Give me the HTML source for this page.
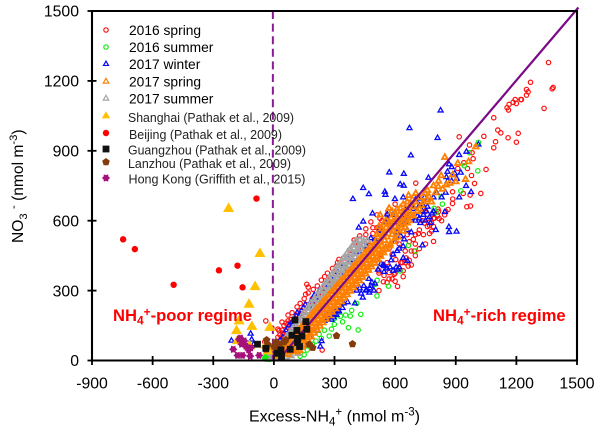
<!DOCTYPE html>
<html lang="en">
<head>
<meta charset="utf-8">
<title>NO3 vs Excess NH4 scatter chart</title>
<style>
html,body{margin:0;padding:0;background:#fff;width:600px;height:432px;overflow:hidden}
svg{display:block;font-family:"Liberation Sans",Arial,sans-serif}
</style>
</head>
<body>
<svg id="chart" width="600" height="432" viewBox="0 0 600 432" xmlns="http://www.w3.org/2000/svg"></svg>
<script>
const xTicks = [-900,-600,-300,0,300,600,900,1200,1500];
const yTicks = [0,300,600,900,1200,1500];

const spring2016 = [[1359,1279],[1270,1194],[1250,1163],[1258,1153],[1250,1139],[1382,1172],[1377,1166],[1337,1082],[1225,1120],[1222,1120],[1194,1120],[1200,1103],[1184,1108],[1164,1099],[1154,1085],[1161,1075],[1088,1042],[1108,989],[1123,977],[1159,956],[1209,975],[1200,937],[1097,939],[1088,913],[1039,962],[917,960],[968,925],[981,892],[986,866],[940,849],[910,824],[958,824],[1050,820],[978,794],[993,760],[1024,717],[702,761],[884,724],[971,710],[937,717],[885,693],[884,674],[955,660],[973,663],[747,638],[600,671],[862,648],[818,609],[790,511],[780,590],[760,575],[735,600],[812,650],[845,625],[770,545],[612,318],[239,45],[397,517],[322,434],[310,405],[251,360],[163,327],[170,315],[157,284],[595,370],[571,377],[542,338],[603,433],[665,405],[628,420],[640,385],[560,420],[585,455],[520,385],[505,430],[650,470],[690,520],[715,545],[660,540],[620,500],[570,480],[530,455],[-40,170],[-10,140],[25,128],[45,118],[60,100],[70,155],[95,135],[118,170],[85,175],[140,200],[165,225],[190,250],[215,275],[240,310],[275,345],[300,370],[345,410],[380,455],[420,495],[455,540],[490,570],[525,610],[565,640],[-45,80],[130,90],[165,65],[35,90],[45,110],[55,95],[65,125],[75,110],[85,140],[95,125],[40,130],[50,150],[60,160],[30,110],[20,100],[70,170],[80,160],[100,155],[110,195],[125,185],[135,215],[150,205],[160,240],[175,230],[190,265],[205,255],[220,285],[235,280],[252,310],[268,305],[285,335],[300,330],[320,365],[340,360],[360,395],[380,390],[400,420],[420,445],[440,480],[465,510],[490,545],[510,570],[535,600],[560,625],[520,300],[560,335],[585,350],[600,375],[620,395],[635,420],[655,440],[680,470],[700,500],[640,360],[670,430],[720,560],[740,540],[770,580],[790,610],[815,640],[830,600],[850,640],
[20,135],[40,165],[70,195],[90,205],[115,230],[130,245],[150,265],[170,290],[195,305],[215,320],[235,345],[265,375],[290,395],[315,420],[345,440],[375,475],[400,505],[425,535],[455,565],[480,595],[510,625],
[520,375],[545,365],[570,350],[600,340],[650,420],[680,410],[700,450],[720,480],[750,500],[780,555],[760,610],[795,611],[810,620],[745,590],[790,575],[700,540],[670,510],[695,470]];
const summer2016 = [[1012,936],[968,892],[943,836],[1009,814],[925,728],[828,703],[834,671],[793,653],[803,635],[701,470],[666,494],[625,384],[567,319],[510,277],[501,327],[511,344],[430,198],[417,131],[369,141],[378,191],[340,166],[299,155],[274,105],[224,112],[208,83],[410,245],[385,215],[355,195],[330,190],[300,180],[285,135],[250,130],[235,95],[190,70],[165,45],[150,25],[130,18],[-42,14],[-36,9],[-30,18],[-24,10],[-18,16],[-12,8],[-38,20],[-28,6],[-40,6],[-33,13],[-27,13],[-21,5],[-15,12],[-45,10],[-10,16]];
const winter2017 = [[825,1073],[671,997],[810,955],[678,880],[571,807],[643,801],[442,740],[470,714],[391,693],[549,724],[552,711],[625,756],[643,750],[599,693],[765,784],[867,842],[917,882],[953,896],[1012,927],[859,810],[854,787],[895,803],[925,806],[951,749],[976,723],[917,700],[846,637],[782,631],[488,631],[562,627],[700,690],[720,665],[745,700],[690,650],[735,640],[760,660],[710,620],[680,610],[650,590],[725,590],[770,615],[866,573],[867,551],[904,553],[801,560],[735,494],[442,596],[420,570],[366,441],[661,427],[620,400],[472,291],[432,287],[401,245],[236,83],[290,205],[305,210],[275,195],[320,215],[295,185],[265,180],[340,225],[546,405],[560,395],[530,415],[580,430],[628,534],[645,520],[610,550],[660,560],[600,510],[500,330],[480,320],[455,300],[440,270],[-115,115],[-110,90],[-100,70],[-210,85],[230,60],[60,130],[75,150],[90,165],[105,180],[115,205],[130,200],[145,225],[155,240],[170,230],[185,255],[200,280],[215,270],[225,300],[245,300],[255,330],[270,325],[285,350],[300,345],[315,380],[330,375],[345,405],[360,400],[375,430],[390,425],[410,465],[425,460],[445,495],[460,490],[480,525],[500,520],[520,560],[535,555],[555,590],[570,585],[590,625],[250,170],[262,180],[285,175],[298,200],[310,195],[322,210],[270,210],[255,195],[305,225],[345,245],[365,250],[410,300],[425,310],[445,320],[460,302],[475,310],[485,335],[470,350],[495,300],[515,390],[545,380],[575,400],[590,385],[605,400],[613,390],[540,410],[590,455],[620,480],[640,490],[680,550],[610,470],[640,440],[45,100],[30,85],[95,150],[180,100],[215,130],
[650,650],[670,640],[690,620],[665,610],[640,625],[615,600],[630,580],[600,590],[700,600],[720,610],[740,625],[755,640],[680,670],[660,680],[715,695],[735,670],[760,690],[790,700],[805,720],[640,700],[610,650],[585,640],[560,610],[750,600],[775,590],[790,640],[830,700],[850,720],[880,770],[905,780],[880,830],[860,770]];
const spring2017 = [[846,872],[910,846],[963,853],[999,917],[828,793],[884,796],[948,777],[813,746],[853,753],[900,767],[666,708],[702,717],[747,717],[768,703],[570,653],[625,653],[526,624],[800,720],[835,735],[870,760],[780,680],[740,680],[720,650],[690,660],[655,635],[640,620],[610,610],[590,590],[600,630],[680,625],[660,590],[620,580],[640,555],[590,555],[600,525],[570,560],[545,590],[560,530],[575,500],[540,545],[520,575],[510,540],[635,590],[655,610],
[500,505],[525,510],[548,515],[595,510],[615,530],[515,530],[540,535],[585,540],[610,560],[630,570],[535,565],[555,570],[575,585],[600,575],[625,600],[645,600],[555,600],[580,610],[600,600],[620,625],[645,640],[665,650],[585,640],[610,650],[640,670],[660,680],[685,690],[700,680],[720,700],[730,665],[755,690],[760,730],[790,750],[815,770],[650,570],[670,600],[690,620],[710,640],
[38,40],[57,44],[76,38],[94,42],[113,37],[128,43],
[48,55],[66,58],[85,53],[102,56],[120,52],[138,57],
[62,70],[80,73],[98,68],[117,71],[134,67],[152,72],
[74,85],[92,88],[112,83],[130,86],[148,82],[168,87],
[92,100],[110,103],[128,98],[146,101],[164,97],[184,102],
[108,115],[124,118],[142,113],[160,116],[178,112],[198,117],
[120,130],[138,133],[157,128],[175,131],[194,127],[214,132],
[136,145],[154,148],[172,143],[190,146],[208,142],[228,147],
[150,160],[168,163],[187,158],[205,161],[224,157],[243,162],
[166,175],[184,178],[202,173],[220,176],[238,172],[258,177],
[180,190],[198,193],[217,188],[235,191],[254,187],[274,192],
[196,205],[214,208],[232,203],[250,206],[268,202],[288,207],
[210,220],[228,223],[247,218],[265,221],[284,217],[303,222],
[226,235],[244,238],[262,233],[280,236],[298,232],[318,237],
[240,250],[258,253],[277,248],[295,251],[314,247],[334,252],
[256,265],[274,268],[292,263],[310,266],[328,262],[348,267],
[270,280],[288,283],[307,278],[325,281],[344,277],[363,282],
[286,295],[304,298],[322,293],[340,296],[358,292],[378,297],
[300,310],[318,313],[337,308],[355,311],[374,307],[394,312],
[316,325],[334,328],[352,323],[370,326],[388,322],[408,327],
[330,340],[348,343],[367,338],[385,341],[404,337],[423,342],
[346,355],[364,358],[382,353],[400,356],[418,352],[438,357],
[360,370],[378,373],[397,368],[415,371],[434,367],[454,372],
[376,385],[394,388],[412,383],[430,386],[448,382],[468,387],
[390,400],[408,403],[427,398],[445,401],[464,397],[483,402],
[406,415],[424,418],[442,413],[460,416],[478,412],[498,417],
[420,430],[438,433],[457,428],[475,431],[494,427],[514,432],
[436,445],[454,448],[472,443],[490,446],[508,442],[528,447],
[450,460],[468,463],[487,458],[505,461],[524,457],[543,462],
[466,475],[484,478],[502,473],[520,476],[538,472],[558,477],
[480,490],[498,493],[517,488],[535,491],[554,487],[574,492],
[30,30],[15,55],[-10,40],[-25,50],[20,20],[5,25],[50,30],[70,25]];
const summer2017 = [[40,25],[25,12],[10,8],[-10,15],[60,45],[75,30],[20,60],[-15,30],[60,15],[85,20],[120,30],
[35,62],[52,65],[70,60],[88,63],
[48,82],[66,85],[84,80],[102,83],
[62,100],[80,103],[98,98],[116,101],
[78,118],[96,121],[114,116],[132,119],
[92,136],[110,139],[128,134],[146,137],
[108,154],[126,157],[144,152],[162,155],
[122,172],[140,175],[158,170],[176,173],
[138,190],[156,193],[174,188],[192,191],
[152,208],[170,211],[188,206],[206,209],
[168,226],[186,229],[204,224],[222,227],
[182,244],[200,247],[218,242],[236,245],
[198,262],[216,265],[234,260],[252,263],
[212,280],[230,283],[248,278],[266,281],
[228,298],[246,301],[264,296],[282,299],
[242,316],[260,319],[278,314],[296,317],
[258,334],[276,337],[294,332],[312,335],
[272,352],[290,355],[308,350],[326,353],
[288,370],[306,373],[324,368],[342,371],
[302,388],[320,391],[338,386],[356,389],
[318,406],[336,409],[354,404],[372,407],
[332,424],[350,427],[368,422],[386,425],
[348,442],[366,445],[384,440],[402,443],
[362,460],[380,463],[398,458],[416,461],
[378,478],[396,481],[414,476],[432,479],
[392,496],[410,499],[428,494],[446,497],
[408,514],[426,517],[444,512],[462,515]];
const shanghai = [[-224,651],[-69,458],[-93,316],[-123,240],[-172,169],[-109,145],[-20,141],[-185,127],[-180,84],[-120,62],[-40,65],[-30,40]];
const beijing = [[-86,695],[-746,520],[-688,478],[-496,325],[-272,387],[-180,407],[-155,314]];
const guangzhou = [[104,174],[158,167],[114,129],[163,134],[89,108],[139,105],[118,95],[117,77],[81,48],[35,45],[38,19],[-40,52],[-81,70],[15,31],[127,60]];
const lanzhou = [[-36,88],[-30,68],[-38,48],[10,79],[1,60],[25,70],[50,79],[59,88],[35,52],[15,45],[175,69],[192,55],[310,106],[389,71]];
const hongKong = [[-172,91],[-147,84],[-160,70],[-201,48],[-180,22],[-155,22],[-139,62],[-114,55],[-117,19],[-73,22],[-165,96],[-125,45]];

const legendLabels = ["2016 spring","2016 summer","2017 winter","2017 spring","2017 summer"];
const legendLabels2 = ["Shanghai (Pathak et al., 2009)","Beijing (Pathak et al., 2009)","Guangzhou (Pathak et al., 2009)","Lanzhou (Pathak et al., 2009)","Hong Kong (Griffith et al., 2015)"];

const NS = "http://www.w3.org/2000/svg";
const svg = document.getElementById("chart");
const X0 = 92, X1 = 577, Y0 = 360.5, Y1 = 11;
function sx(v){ return X0 + (v + 900) * (X1 - X0) / 2400; }
function sy(v){ return Y0 - v * (Y0 - Y1) / 1500; }
function make(tag, attrs){
  const el = document.createElementNS(NS, tag);
  for (const k in attrs) el.setAttribute(k, attrs[k]);
  return el;
}
function polyPts(cx, cy, r, n, rot){
  const out = [];
  for (let i = 0; i < n; i++){
    const a = rot + i * 2 * Math.PI / n;
    out.push((cx + r * Math.cos(a)).toFixed(2) + "," + (cy + r * Math.sin(a)).toFixed(2));
  }
  return out.join(" ");
}
function starPts(cx, cy, r){
  const out = [];
  for (let i = 0; i < 12; i++){
    const a = i * Math.PI / 6;
    const q = i % 2 ? r * 0.68 : r;
    out.push((cx + q * Math.cos(a)).toFixed(2) + "," + (cy + q * Math.sin(a)).toFixed(2));
  }
  return out.join(" ");
}
function marker(kind, cx, cy){
  if (kind === "c-red") return make("circle", {cx, cy, r:2.2, fill:"none", stroke:"#ff1010", "stroke-width":1.2});
  if (kind === "c-green") return make("circle", {cx, cy, r:2.2, fill:"none", stroke:"#10ee10", "stroke-width":1.2});
  if (kind === "t-blue") return make("polygon", {points:polyPts(cx, cy, 2.9, 3, -Math.PI/2), fill:"none", stroke:"#0a0af5", "stroke-width":1.3});
  if (kind === "t-orange") return make("polygon", {points:polyPts(cx, cy, 3.2, 3, -Math.PI/2), fill:"none", stroke:"#ff8000", "stroke-width":1.8});
  if (kind === "t-grey") return make("polygon", {points:polyPts(cx, cy, 3.2, 3, -Math.PI/2), fill:"none", stroke:"#a6a6a6", "stroke-width":1.8});
  if (kind === "shanghai") return make("polygon", {points:polyPts(cx, cy, 6.4, 3, -Math.PI/2), fill:"#ffc000"});
  if (kind === "shanghai-legend") return make("polygon", {points:polyPts(cx, cy, 4.8, 3, -Math.PI/2), fill:"#ffc000"});
  if (kind === "beijing") return make("circle", {cx, cy, r:3.2, fill:"#ff0000"});
  if (kind === "guangzhou") return make("rect", {x:cx-3.4, y:cy-3.4, width:6.8, height:6.8, fill:"#111111"});
  if (kind === "lanzhou") return make("polygon", {points:polyPts(cx, cy, 4, 5, -Math.PI/2), fill:"#843c0c"});
  return make("polygon", {points:starPts(cx, cy, 4.2), fill:"#a5107a"});
}
function addText(parent, x, y, str, size, anchor, name, extra){
  const t = make("text", {x, y, "font-size":size, "text-anchor":anchor, fill:"#000"});
  
  
  if (extra) for (const k in extra) t.setAttribute(k, extra[k]);
  t.textContent = str;
  parent.appendChild(t);
  return t;
}
function drawSeries(name, data, kind){
  const g = make("g", {});
  
  
  data.forEach(function(d){
    const m = marker(kind, sx(d[0]), sy(d[1]));
    
    
    g.appendChild(m);
  });
  svg.appendChild(g);
}

drawSeries("series-2016-spring", spring2016, "c-red");
drawSeries("series-2016-summer", summer2016, "c-green");
drawSeries("series-2017-winter", winter2017, "t-blue");
drawSeries("series-2017-summer", summer2017, "t-grey");
drawSeries("series-2017-spring", spring2017, "t-orange");

const diag = make("line", {x1:sx(20), y1:sy(0), x2:sx(1507), y2:sy(1515), stroke:"#7a0a86", "stroke-width":2.2});


svg.appendChild(diag);

const dash = make("line", {x1:sx(-5), y1:Y1, x2:sx(-5), y2:Y0+3, stroke:"#8a1a96", "stroke-width":2, "stroke-dasharray":"8 4.6"});


svg.appendChild(dash);

drawSeries("series-shanghai", shanghai, "shanghai");
drawSeries("series-beijing", beijing, "beijing");
drawSeries("series-lanzhou", lanzhou, "lanzhou");
drawSeries("series-hong-kong", hongKong, "hongkong");
drawSeries("series-guangzhou", guangzhou, "guangzhou");

const frame = make("path", {d:"M"+X0+" "+Y0+"V"+Y1+"H"+X1+"V"+Y0+"Z", fill:"none", stroke:"#000", "stroke-width":2.1});


svg.appendChild(frame);

xTicks.forEach(function(v){
  const tick = make("line", {x1:sx(v), x2:sx(v), y1:Y0-4.5, y2:Y0+4.5, stroke:"#000", "stroke-width":1.8});
  
  
  svg.appendChild(tick);
  addText(svg, sx(v), 388.5, String(v), 15.8, "middle", "x-tick-label");
});
yTicks.forEach(function(v){
  const tick = make("line", {x1:X0-4.5, x2:X0+4.5, y1:sy(v), y2:sy(v), stroke:"#000", "stroke-width":1.8});
  
  
  svg.appendChild(tick);
  addText(svg, 79, sy(v)+5.7, String(v), 15.8, "end", "y-tick-label");
});

const legendKinds = ["c-red","c-green","t-blue","t-orange","t-grey"];
const legendYs = [30,47,64,81.5,98.5];
legendLabels.forEach(function(label, i){
  const m = marker(legendKinds[i], 106, legendYs[i]);
  
  
  m.setAttribute('stroke-width', '1.2');
  svg.appendChild(m);
  addText(svg, 129, legendYs[i]+5, label, 13.8, "start", "legend-entry");
});
const legendKinds2 = ["shanghai-legend","beijing","guangzhou","lanzhou","hongkong"];
const legendYs2 = [116,133,149,162,178];
const legendTextYs = [122,139,154.5,168,183.5];
const legendXs = [128,129,128,128,128.5];
const legendWidths = [166,153,178,163,177];
legendLabels2.forEach(function(label, i){
  const m = marker(legendKinds2[i], 106, legendYs2[i]);
  
  
  svg.appendChild(m);
  addText(svg, legendXs[i], legendTextYs[i], label, 12.6, "start", "legend-entry", {textLength:legendWidths[i], lengthAdjust:"spacingAndGlyphs", fill:"#222"});
});

function subText(parent, x, y, parts, size, fill, name, weight, anchor, transform){
  const t = make("text", {x, y, "font-size":size, fill, "text-anchor":anchor || "start"});
  if (weight) t.setAttribute("font-weight", weight);
  if (transform) t.setAttribute("transform", transform);
  
  
  parts.forEach(function(p){
    const s = make("tspan", {});
    if (p[1]) { s.setAttribute("dy", p[1]); s.setAttribute("font-size", size * 0.72); }
    s.textContent = p[0];
    t.appendChild(s);
    if (p[1]) {
      const r = make("tspan", {dy:-p[1], "font-size":size});
      r.textContent = "\u200b";
      t.appendChild(r);
    }
  });
  parent.appendChild(t);
}
subText(svg, 113, 321, [["NH"],["4",3.5],["+",-5],["-poor regime"]], 16.6, "#ff0000", "nh4-poor-regime-label", "bold");
subText(svg, 433, 321, [["NH"],["4",3.5],["+",-5],["-rich regime"]], 16.6, "#ff0000", "nh4-rich-regime-label", "bold");
subText(svg, 249, 421.5, [["Excess-NH"],["4",4],["+",-6],[" (nmol m"],["-3",-6],[")"]], 16, "#000", "x-axis-title");
subText(svg, 0, 0, [["NO"],["3",4],[" "],["-",-6],[" (nmol m"],["-3",-6],[")"]], 15.6, "#000", "y-axis-title", null, "start", "translate(23,243) rotate(-90)");
</script>
</body>
</html>
